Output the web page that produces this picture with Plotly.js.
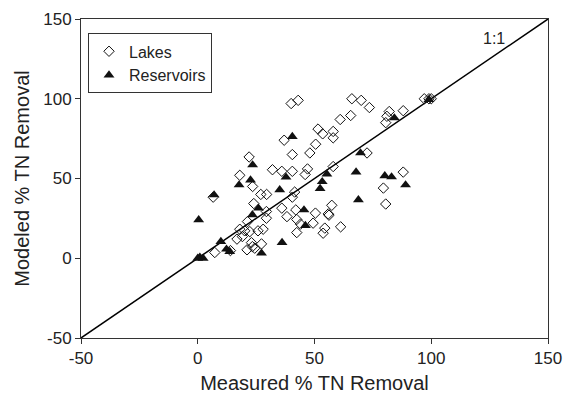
<!DOCTYPE html>
<html>
<head>
<meta charset="utf-8">
<script src="https://cdn.plot.ly/plotly-3.0.1.min.js"></script>
<style>html,body{margin:0;padding:0;background:#fff;}#chart{width:567px;height:397px;}</style>
</head>
<body>
<div id="chart"></div>
<script>
const lakesX = [40, 43, 66, 70, 73.5, 61, 65.5, 82, 81, 80.5, 88, 97, 99, 100,
  51.5, 53.5, 58, 58, 50.5, 48, 37, 40.5, 22, 18, 32, 36, 40.5, 47, 46, 58, 72.5, 88,
  79.5, 80.5, 23.5, 27, 29.5, 41.5, 40.5, 6.6, 24, 29.4, 29.4, 36, 42, 38.2, 42.4,
  21.3, 18, 20.1, 22.3, 25.8, 28, 16.8, 19.1, 23, 27.3, 42.4, 14, 7.3, 21.1, 24.4,
  23.4, 57.4, 50.4, 55.9, 56.2, 49.4, 44, 54.4, 53.7, 61.2];
const lakesY = [97, 99, 100, 99, 94.5, 87, 89.5, 92, 89, 85, 92.5, 100, 100, 100,
  81, 78, 79.5, 75.5, 71.5, 66, 74, 65, 63.5, 52, 55.5, 54.5, 54.5, 56, 52.5, 57.5, 66, 54,
  44, 34, 45, 40, 40, 41.5, 38.3, 38.3, 34.3, 29.3, 25.1, 31.4, 30.3, 26.1, 24.3,
  23, 18.2, 17.2, 16.7, 17.2, 18.2, 12, 13.6, 9.8, 9, 16.1, 4.8, 3.6, 5.3, 6.3,
  7.3, 33.2, 28.3, 27.8, 27, 22, 21.4, 18.9, 15.7, 19.7];
const resX = [40.5, 23.5, 22.6, 37.8, 17.7, 35.1, 7, 0.4, 26, 23.4, 9.9, 36.1, 12.3, 13.7,
  27.3, 0.9, 2.3, 0, 99, 84.2, 69.7, 55.3, 67.8, 80.1, 83, 53.3, 52.4, 89, 68.8, 45.5, 46.1];
const resY = [76.3, 58.5, 49, 50.8, 46, 42.9, 39.7, 24.1, 31.4, 27.2, 10.5, 9.8, 5.7, 4.2,
  3.2, 0.7, 0, 0, 99.5, 88, 66, 52.8, 54, 51.7, 51, 48, 43.7, 46, 36.6, 30.3, 20.5];
const lineX = [-50, 150];
const lineY = [-50, 150];
const tickVals = [-50, 0, 50, 100, 150];
const tickText = ['-50', '0', '50', '100', '150'];

const font = "Liberation Sans, Arial, Helvetica, sans-serif";
const traces = [
  {x: lineX, y: lineY, mode: 'lines', line: {color: '#000', width: 1.5}, showlegend: false, hoverinfo: 'skip'},
  {x: lakesX, y: lakesY, mode: 'markers', name: 'Lakes',
   marker: {symbol: 'diamond-open', size: 8, color: '#111', line: {width: 1, color: '#111'}}},
  {x: resX, y: resY, mode: 'markers', name: 'Reservoirs',
   marker: {symbol: 'triangle-up', size: 9.5, color: '#111'}}
];
const axisCommon = {
  range: [-50, 150], tickvals: tickVals, ticktext: tickText, ticks: 'outside', ticklen: 5, tickwidth: 1,
  tickcolor: '#333', showline: true, linecolor: '#333', linewidth: 1, mirror: true,
  showgrid: false, zeroline: false, tickfont: {family: font, size: 17, color: '#222'}
};
const layout = {
  width: 567, height: 397,
  margin: {l: 81, r: 19, t: 19, b: 59},
  paper_bgcolor: '#fff', plot_bgcolor: '#fff',
  font: {family: font, color: '#222'},
  xaxis: Object.assign({}, axisCommon, {title: {text: 'Measured % TN Removal', font: {family: font, size: 20, color: '#222'}, standoff: 8}}),
  yaxis: Object.assign({}, axisCommon, {title: {text: 'Modeled % TN Removal', font: {family: font, size: 20, color: '#222'}, standoff: 8}}),
  showlegend: true,
  legend: {x: 0.015, y: 0.955, xanchor: 'left', yanchor: 'top', bgcolor: '#fff',
    bordercolor: '#333', borderwidth: 1, font: {family: font, size: 16, color: '#222'},
    tracegroupgap: 0, itemwidth: 30},
  annotations: [{x: 127, y: 138, xref: 'x', yref: 'y', text: '1:1', showarrow: false,
    font: {family: font, size: 16, color: '#222'}}]
};
Plotly.newPlot('chart', traces, layout, {staticPlot: true, displayModeBar: false});
</script>
</body>
</html>
